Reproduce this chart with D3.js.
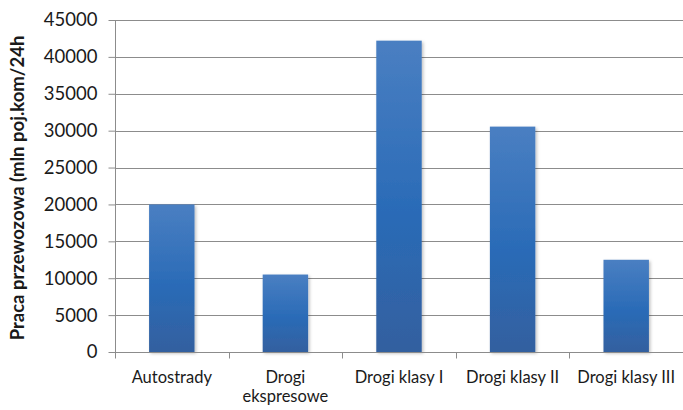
<!DOCTYPE html>
<html>
<head>
<meta charset="utf-8">
<script src="https://cdn.jsdelivr.net/npm/d3@7"></script>
<style>
  html, body { margin: 0; padding: 0; background: #fff; }
  svg { display: block; }
  text { font-family: Lato, "Open Sans", sans-serif; fill: #1a1a1a; }
</style>
</head>
<body>
<svg id="chart" width="683" height="410"></svg>
<script>
// Road categories (multi-line labels split on "\n")
const categories = ["Autostrady", "Drogi\nekspresowe", "Drogi klasy I", "Drogi klasy II", "Drogi klasy III"];
// Transport work, million vehicle-km per 24h
const values = [20000, 10500, 42200, 30550, 12500];
// Y axis ticks
const yTicks = [0, 5000, 10000, 15000, 20000, 25000, 30000, 35000, 40000, 45000];
const yTitle = "Praca przewozowa (mln poj.kom/24h";

const width = 683, height = 410;
const margin = { top: 20, right: 0, bottom: 58, left: 115 };
const svg = d3.select("#chart");

const x = d3.scaleBand()
  .domain(categories)
  .range([margin.left, width - margin.right])
  .paddingInner(0.6)
  .paddingOuter(0.3);

const y = d3.scaleLinear()
  .domain([0, 45000])
  .range([height - margin.bottom, margin.top]);

// Bar fill gradient
const defs = svg.append("defs");
const grad = defs.append("linearGradient")
  .attr("id", "barGrad").attr("x1", 0).attr("y1", 0).attr("x2", 0).attr("y2", 1);
grad.append("stop").attr("offset", "0%").attr("stop-color", "#4a7fc2");
grad.append("stop").attr("offset", "55%").attr("stop-color", "#2a6bb7");
grad.append("stop").attr("offset", "100%").attr("stop-color", "#33609f");

const shadow = defs.append("filter").attr("id", "shadow")
  .attr("x", "-20%").attr("y", "-5%").attr("width", "150%").attr("height", "115%");
shadow.append("feDropShadow").attr("dx", 1.5).attr("dy", 1.5)
  .attr("stdDeviation", 1.5).attr("flood-color", "#000").attr("flood-opacity", 0.25);

// Gridlines
svg.append("g")
  .selectAll("line")
  .data(yTicks.filter(d => d > 0))
  .join("line")
  .attr("x1", margin.left)
  .attr("x2", width - margin.right)
  .attr("y1", d => Math.round(y(d)) + 0.5)
  .attr("y2", d => Math.round(y(d)) + 0.5)
  .attr("stroke", "#8c8c8c")
  .attr("stroke-width", 1);

// Bars
svg.append("g")
  .selectAll("rect")
  .data(values)
  .join("rect")
  .attr("x", (d, i) => x(categories[i]))
  .attr("y", d => y(d))
  .attr("width", x.bandwidth())
  .attr("height", d => y(0) - y(d))
  .attr("fill", "url(#barGrad)")
  .attr("filter", "url(#shadow)");

// Y axis
const yAxis = svg.append("g")
  .attr("transform", `translate(${margin.left + 0.5},0)`)
  .call(d3.axisLeft(y).tickValues(yTicks).tickSize(7).tickPadding(11).tickFormat(d3.format("d")));
yAxis.select(".domain").attr("stroke", "#8c8c8c").attr("d", `M0,${margin.top}V${y(0) + 6}`);
yAxis.selectAll(".tick line").attr("stroke", "#8c8c8c");
yAxis.selectAll(".tick text").attr("font-size", 18.5).attr("fill", "#1a1a1a")
  .style("font-family", "Lato, sans-serif");

// X axis
const xAxisY = Math.round(y(0)) + 0.5;
const xg = svg.append("g");
xg.append("line")
  .attr("x1", margin.left).attr("x2", width - margin.right)
  .attr("y1", xAxisY).attr("y2", xAxisY)
  .attr("stroke", "#8c8c8c");
const boundaries = d3.range(categories.length + 1)
  .map(i => margin.left + i * (width - margin.left - margin.right) / categories.length);
xg.selectAll("line.tk")
  .data(boundaries)
  .join("line")
  .attr("class", "tk")
  .attr("x1", d => Math.round(d) + 0.5).attr("x2", d => Math.round(d) + 0.5)
  .attr("y1", xAxisY).attr("y2", xAxisY + 6)
  .attr("stroke", "#8c8c8c");

xg.selectAll("text")
  .data(categories)
  .join("text")
  .attr("text-anchor", "middle")
  .attr("font-size", 16.5)
  .attr("x", d => x(d) + x.bandwidth() / 2)
  .attr("y", 383)
  .each(function(d) {
    const lines = d.split("\n");
    d3.select(this).selectAll("tspan")
      .data(lines)
      .join("tspan")
      .attr("x", x(d) + x.bandwidth() / 2)
      .attr("dy", (l, i) => i === 0 ? 0 : 19)
      .text(l => l);
  });

// Y axis title
svg.append("text")
  .attr("transform", `translate(24,${(margin.top + y(0)) / 2 + 2}) rotate(-90)`)
  .attr("text-anchor", "middle")
  .attr("font-size", 18.5)
  .attr("font-weight", "bold")
  .text(yTitle);
</script>
</body>
</html>
